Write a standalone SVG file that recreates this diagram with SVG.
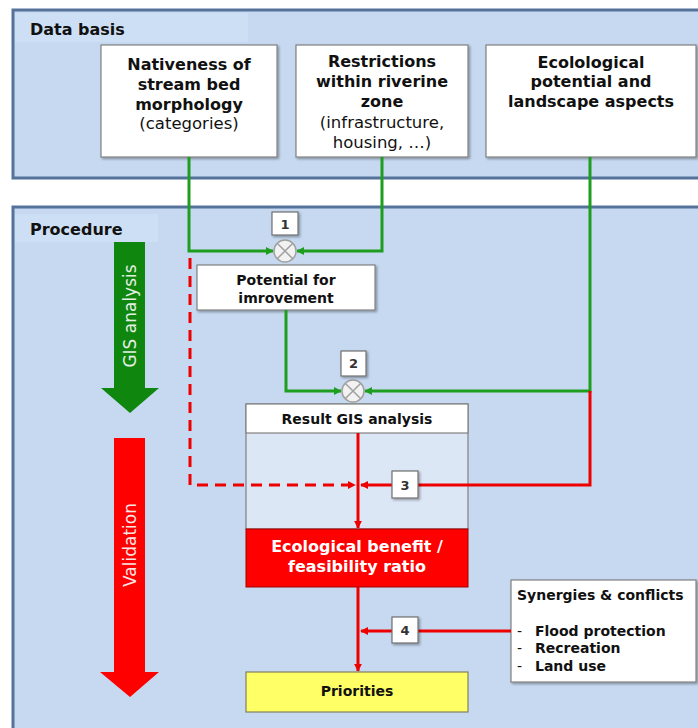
<svg xmlns="http://www.w3.org/2000/svg" width="698" height="728" viewBox="0 0 698 728">
<style>
.panel{fill:#c6d9f0;stroke:#54729a;stroke-width:3}
.band{fill:#cddff5}
.box{fill:#ffffff;stroke:#808080;stroke-width:1.2}
.t{font-family:"DejaVu Sans",Verdana,sans-serif;fill:#111}
.b{font-weight:bold}
.h{font-size:16px;font-weight:bold}
.g{fill:none;stroke:#1e9e1e;stroke-width:3}
.r{fill:none;stroke:#ee0000;stroke-width:3}
.num{fill:#ffffff;stroke:#707070;stroke-width:1.2}
.numt{font-family:"DejaVu Sans",Verdana,sans-serif;font-weight:bold;font-size:13px;fill:#333;text-anchor:middle}
.circ{fill:#f2f2f2;stroke:#a0a0a0;stroke-width:1.5}
</style>
<defs>
<marker id="ag" viewBox="0 0 10 10" refX="9" refY="5" markerWidth="8" markerHeight="8" markerUnits="userSpaceOnUse" orient="auto"><path d="M0,0 L10,5 L0,10 z" fill="#1e9e1e"/></marker>
<marker id="ar" viewBox="0 0 10 10" refX="9" refY="5" markerWidth="8" markerHeight="8" markerUnits="userSpaceOnUse" orient="auto"><path d="M0,0 L10,5 L0,10 z" fill="#ee0000"/></marker>
<filter id="sh" x="-20%" y="-20%" width="150%" height="150%"><feDropShadow dx="1.5" dy="1.5" stdDeviation="1" flood-color="#000" flood-opacity="0.35"/></filter>
</defs>

<g id="panel-data">
<rect class="panel" x="13" y="10" width="700" height="168"/>
<rect class="band" x="15" y="13" width="233" height="29"/>
<text class="t h" x="30" y="35">Data basis</text>
</g>
<g id="panel-procedure">
<rect class="panel" x="13" y="207" width="700" height="540"/>
<rect class="band" x="15" y="214" width="143" height="28"/>
<text class="t h" x="30" y="235">Procedure</text>
</g>

<g id="arrow-gis">
<path d="M114,242 H145 V388 H159 L130,413 L101,388 H114 Z" fill="#0f870f"/>
<text class="t" font-size="17" style="fill:#e6efe6" text-anchor="middle" transform="translate(136,316) rotate(-90)">GIS analysis</text>
</g>
<g id="arrow-validation">
<path d="M114,438 H145 V672 H159 L130,697 L100,672 H114 Z" fill="#ff0000"/>
<text class="t" font-size="17" style="fill:#f7e6e6" text-anchor="middle" transform="translate(136,545) rotate(-90)">Validation</text>
</g>

<g id="node-nativeness">
<rect class="box" x="101" y="45" width="176" height="112" filter="url(#sh)"/>
<text class="t h" text-anchor="middle" x="189" y="70">Nativeness of</text>
<text class="t h" text-anchor="middle" x="189" y="90">stream bed</text>
<text class="t h" text-anchor="middle" x="189" y="110">morphology</text>
<text class="t" font-size="16.5" text-anchor="middle" x="189" y="129">(categories)</text>
</g>
<g id="node-restrictions">
<rect class="box" x="296" y="45" width="172" height="112" filter="url(#sh)"/>
<text class="t h" text-anchor="middle" x="382" y="67">Restrictions</text>
<text class="t h" text-anchor="middle" x="382" y="87">within riverine</text>
<text class="t h" text-anchor="middle" x="382" y="107">zone</text>
<text class="t" font-size="16.5" text-anchor="middle" x="382" y="128">(infrastructure,</text>
<text class="t" font-size="16.5" text-anchor="middle" x="382" y="148">housing, …)</text>
</g>
<g id="node-ecological">
<rect class="box" x="486" y="45" width="210" height="112" filter="url(#sh)"/>
<text class="t h" text-anchor="middle" x="591" y="68">Ecolological</text>
<text class="t h" text-anchor="middle" x="591" y="87">potential and</text>
<text class="t h" text-anchor="middle" x="591" y="107">landscape aspects</text>
</g>

<g id="node-potential">
<rect class="box" x="197" y="265" width="178" height="45" filter="url(#sh)"/>
<text class="t b" font-size="14" text-anchor="middle" x="286" y="285">Potential for</text>
<text class="t b" font-size="14" text-anchor="middle" x="286" y="303">imrovement</text>
</g>

<g id="node-result">
<rect x="246" y="404" width="222" height="125" fill="#dce7f5" stroke="#808080" stroke-width="1.2"/>
<rect class="box" x="246" y="404" width="222" height="29"/>
<text class="t b" font-size="14" text-anchor="middle" x="357" y="424">Result GIS analysis</text>
</g>
<g id="node-ratio">
<rect x="246" y="529" width="222" height="58" fill="#ff0000" stroke="#a00000" stroke-width="1"/>
<text class="t b" font-size="16" style="fill:#ffffff" text-anchor="middle" x="357" y="552">Ecological benefit /</text>
<text class="t b" font-size="16" style="fill:#ffffff" text-anchor="middle" x="357" y="572">feasibility ratio</text>
</g>
<g id="node-priorities">
<rect x="246" y="672" width="222" height="40" fill="#ffff66" stroke="#808060" stroke-width="1.2"/>
<text class="t b" font-size="14" text-anchor="middle" x="357" y="696">Priorities</text>
</g>
<g id="node-synergies">
<rect class="box" x="511" y="580" width="185" height="102" filter="url(#sh)"/>
<text class="t b" font-size="14" x="517" y="600">Synergies &amp; conflicts</text>
<text class="t" font-size="14" x="517" y="636">-</text>
<text class="t b" font-size="14" x="535" y="636">Flood protection</text>
<text class="t" font-size="14" x="517" y="653">-</text>
<text class="t b" font-size="14" x="535" y="653">Recreation</text>
<text class="t" font-size="14" x="517" y="671">-</text>
<text class="t b" font-size="14" x="535" y="671">Land use</text>
</g>

<g id="connectors">
<path class="g" d="M189,157 V251 H273" marker-end="url(#ag)"/>
<path class="g" d="M382,157 V251 H297" marker-end="url(#ag)"/>
<path class="g" d="M286,310 V391 H341" marker-end="url(#ag)"/>
<path class="g" d="M590,157 V391 H365" marker-end="url(#ag)"/>
<path class="r" d="M590,391 V485 H418"/>
<path class="r" d="M392,485 H361" marker-end="url(#ar)"/>
<path class="r" d="M190,258 V485 H355" stroke-dasharray="11,7" marker-end="url(#ar)"/>
<path class="r" d="M358,433 V528" marker-end="url(#ar)"/>
<path class="r" d="M511,631 H418"/>
<path class="r" d="M392,631 H361" marker-end="url(#ar)"/>
<path class="r" d="M358,587 V671" marker-end="url(#ar)"/>
</g>

<g id="op-1">
<circle class="circ" cx="285" cy="251" r="11"/>
<path d="M277.2,243.2 L292.8,258.8 M292.8,243.2 L277.2,258.8" stroke="#a0a0a0" stroke-width="1.5"/>
<rect class="num" x="272" y="212" width="26" height="23" filter="url(#sh)"/>
<text class="numt" x="285" y="229">1</text>
</g>
<g id="op-2">
<circle class="circ" cx="353" cy="391" r="11"/>
<path d="M345.2,383.2 L360.8,398.8 M360.8,383.2 L345.2,398.8" stroke="#a0a0a0" stroke-width="1.5"/>
<rect class="num" x="341" y="351" width="25" height="25" filter="url(#sh)"/>
<text class="numt" x="353.5" y="368">2</text>
</g>
<g id="step-3">
<rect class="num" x="392" y="471" width="26" height="27" filter="url(#sh)"/>
<text class="numt" x="405" y="490">3</text>
</g>
<g id="step-4">
<rect class="num" x="392" y="617" width="26" height="26" filter="url(#sh)"/>
<text class="numt" x="405" y="635">4</text>
</g>
</svg>
